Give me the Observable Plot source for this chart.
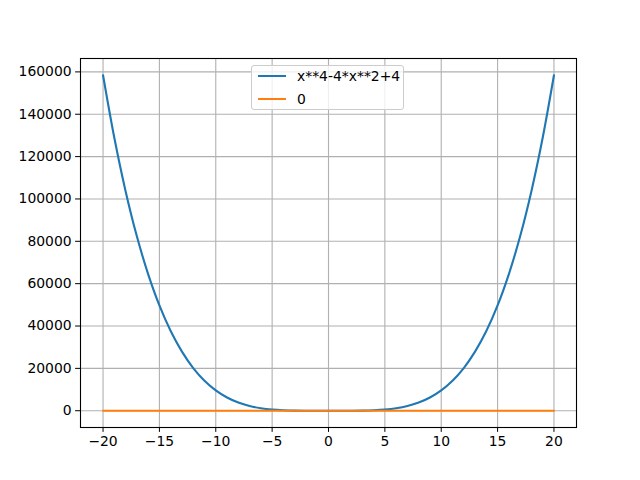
<!DOCTYPE html>
<html>
<head>
<meta charset="utf-8">
<script src="https://cdn.jsdelivr.net/npm/d3@7"></script>
<script src="https://cdn.jsdelivr.net/npm/@observablehq/plot@0.6"></script>
<style>
  html, body { margin: 0; padding: 0; background: #fff; }
  #wrap { position: relative; width: 640px; height: 480px; font-family: "DejaVu Sans", sans-serif; }
  #legend { position: absolute; left: 251px; top: 65px; width: 153px; height: 45px;
    border: 1px solid #cccccc; border-radius: 3px; background: rgba(255,255,255,0.8);
    font-size: 13.9px; color: #000; box-sizing: border-box; }
  .row { position: absolute; left: 6px; height: 20px; display: flex; align-items: center; }
  .sw { width: 28px; height: 2px; margin-right: 11px; }
</style>
</head>
<body>
<div id="wrap">
  <div id="chart"></div>
  <div id="legend"></div>
</div>
<script>
const xs = [-20,-19,-18,-17,-16,-15,-14,-13,-12,-11,-10,-9,-8,-7,-6,-5,-4,-3,-2,-1,0,1,2,3,4,5,6,7,8,9,10,11,12,13,14,15,16,17,18,19,20];
const curveVals = [158404,128881,103684,82369,64516,49729,37636,27889,20164,14161,9604,6241,3844,2209,1156,529,196,49,4,1,4,1,4,49,196,529,1156,2209,3844,6241,9604,14161,20164,27889,37636,49729,64516,82369,103684,128881,158404];
const zeroVals = xs.map(() => 0);
const seriesNames = ["x**4-4*x**2+4", "0"];
const seriesColors = ["#1f77b4", "#ff7f0e"];
const xTicks = [-20,-15,-10,-5,0,5,10,15,20];
const yTicks = [0,20000,40000,60000,80000,100000,120000,140000,160000];

const data = [];
xs.forEach((x, i) => data.push({x, y: curveVals[i], s: seriesNames[0]}));
xs.forEach((x, i) => data.push({x, y: zeroVals[i], s: seriesNames[1]}));

const chart = Plot.plot({
  width: 640, height: 480,
  marginLeft: 80, marginRight: 64, marginTop: 58, marginBottom: 53,
  style: { fontFamily: "DejaVu Sans, sans-serif", fontSize: "13.9px", color: "#000", background: "#fff" },
  x: { domain: [-22, 22] },
  y: { domain: [-7920, 166324] },
  color: { domain: seriesNames, range: seriesColors },
  marks: [
    Plot.gridX(xTicks, { stroke: "#b0b0b0", strokeOpacity: 1, strokeWidth: 1.1 }),
    Plot.gridY(yTicks, { stroke: "#b0b0b0", strokeOpacity: 1, strokeWidth: 1.1 }),
    Plot.line(data, { x: "x", y: "y", z: "s", stroke: "s", strokeWidth: 2.1, curve: "catmull-rom" }),
    Plot.frame({ stroke: "#000", strokeWidth: 1.1 }),
    Plot.axisX({ ticks: xTicks, tickSize: 4.9, tickPadding: 4, label: null, tickFormat: d => d < 0 ? "\u2212" + Math.abs(d) : String(d) }),
    Plot.axisY({ ticks: yTicks, tickSize: 4.9, tickPadding: 4, label: null, tickFormat: d => String(d) })
  ]
});
document.getElementById("chart").appendChild(chart);

const legend = document.getElementById("legend");
seriesNames.forEach((name, i) => {
  const row = document.createElement("div");
  row.className = "row";
  row.style.top = (i === 0 ? 0 : 23) + "px";
  row.innerHTML = `<div class="sw" style="background:${seriesColors[i]}"></div><span>${name}</span>`;
  legend.appendChild(row);
});
</script>
</body>
</html>
